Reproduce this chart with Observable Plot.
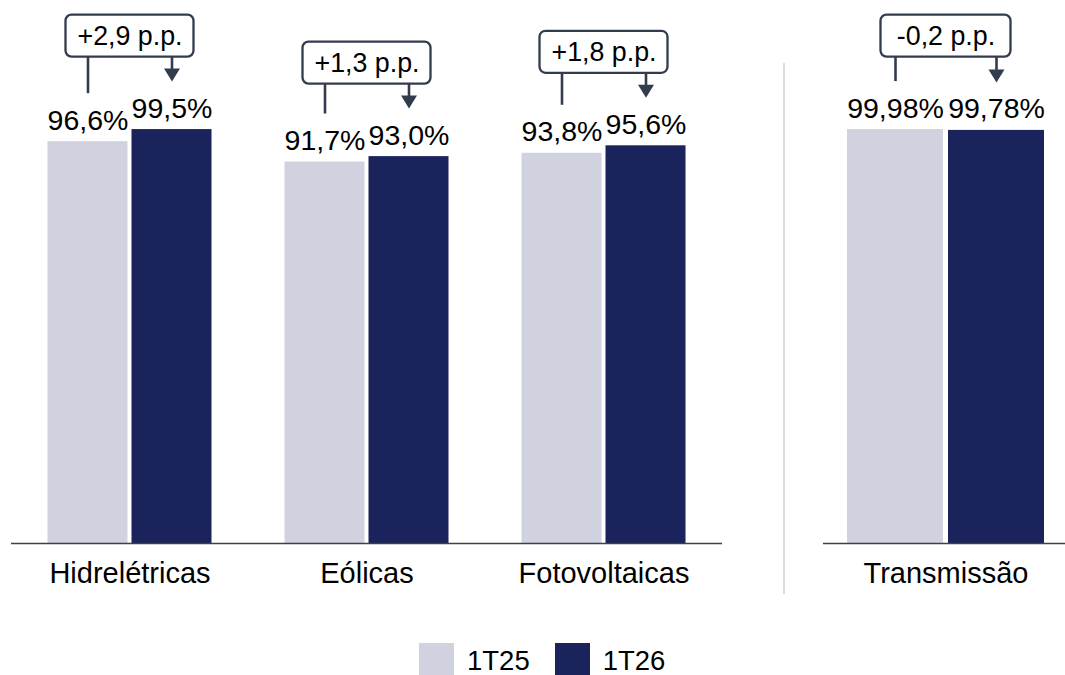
<!DOCTYPE html>
<html><head><meta charset="utf-8">
<script src="https://cdn.jsdelivr.net/npm/d3@7"></script>
<script src="https://cdn.jsdelivr.net/npm/@observablehq/plot@0.6"></script>
<style>
html,body{margin:0;padding:0;background:#fff;overflow:hidden;}
body{width:1065px;height:675px;position:relative;font-family:"Liberation Sans",Arial,sans-serif;}
#left{position:absolute;left:0;top:0;width:740px;}
#right{position:absolute;left:800px;top:0;width:268px;}
#sep{position:absolute;left:783px;top:63px;width:1.5px;height:531px;background:#dcdcdc;}
#legend{position:absolute;left:419px;top:643px;display:flex;align-items:center;font-size:27.5px;color:#000;line-height:35px;}
.sw{width:35px;height:35px;margin-right:13px;}
.lt{margin-right:25px;}
</style></head><body>
<div id="left"></div><div id="sep"></div><div id="right"></div>
<div id="legend"></div>
<script>
// ---- data ----
const periods = ["1T25", "1T26"];
const colors = ["#d0d3df", "#1a235c"];
const genCats = ["Hidrelétricas", "Eólicas", "Fotovoltaicas"];
const gen1T25 = [96.6, 91.7, 93.8];
const gen1T26 = [99.5, 93.0, 95.6];
const genDelta = ["+2,9 p.p.", "+1,3 p.p.", "+1,8 p.p."];
const trCats = ["Transmissão"];
const tr1T25 = [99.98];
const tr1T26 = [99.78];
const trDelta = ["-0,2 p.p."];

const ink = "#323c4e";
const font = "Liberation Sans, Arial, sans-serif";

// downward triangle with its tip at the origin
const arrowHead = {draw(ctx) { ctx.moveTo(-8, -13); ctx.lineTo(8, -13); ctx.lineTo(0, 0); ctx.closePath(); }};

function panel({cats, a, b, delta, decimals, width, marginLeft, marginRight, yTop, pi, po, boxInset}) {
  const base = 543;
  const k = (base - yTop) / 100;
  const up = px => px / k;
  const rows = cats.flatMap((c, i) => [
    {cat: c, period: periods[0], value: a[i]},
    {cat: c, period: periods[1], value: b[i]}
  ]);
  const ann = cats.map((c, i) => ({cat: c, a: a[i], b: b[i], max: Math.max(a[i], b[i]), label: delta[i]}));
  const fmt = v => v.toFixed(decimals).replace(".", ",") + "%";
  const boxGap = 72.5, boxH = 42, stemGap = 48, headH = 13;
  return Plot.plot({
    width, height: 600, marginLeft, marginRight, marginTop: 0, marginBottom: 57,
    style: {fontFamily: font, fontSize: "29px", color: "#000", background: "transparent", overflow: "visible", maxWidth: "none"},
    fx: {domain: cats, padding: 0, label: null, tickSize: 0, tickPadding: 18.5, axis: "bottom"},
    x: {domain: periods, axis: null, paddingInner: pi, paddingOuter: po},
    y: {domain: [0, 100], range: [base, yTop], axis: null},
    color: {domain: periods, range: colors},
    marks: [
      Plot.barY(rows, {fx: "cat", x: "period", y: "value", fill: "period"}),
      Plot.ruleY([0], {stroke: "#404040", strokeWidth: 1.6}),
      Plot.text(rows, {fx: "cat", x: "period", y: "value", text: d => fmt(d.value), dy: -12, lineAnchor: "bottom", fontSize: 28.5, fill: "#000"}),
      Plot.ruleX(ann, {fx: "cat", x: () => periods[0], y1: d => d.a + up(stemGap), y2: d => d.max + up(boxGap), stroke: ink, strokeWidth: 2.6}),
      Plot.ruleX(ann, {fx: "cat", x: () => periods[1], y1: d => d.b + up(stemGap + headH - 1), y2: d => d.max + up(boxGap), stroke: ink, strokeWidth: 2.6}),
      Plot.dot(ann, {fx: "cat", x: () => periods[1], y: d => d.b + up(stemGap), symbol: arrowHead, fill: ink, stroke: "none"}),
      Plot.rect(ann, {fx: "cat", y1: d => d.max + up(boxGap), y2: d => d.max + up(boxGap + boxH), insetLeft: boxInset, insetRight: boxInset, rx: 6, fill: "#fff", stroke: ink, strokeWidth: 2.3}),
      Plot.text(ann, {fx: "cat", y: d => d.max + up(boxGap + boxH / 2), text: "label", lineAnchor: "middle", fontSize: 26.8, fill: "#000"})
    ]
  });
}

document.getElementById("left").append(panel({
  cats: genCats, a: gen1T25, b: gen1T26, delta: genDelta, decimals: 1,
  width: 740, marginLeft: 10.5, marginRight: 18.5, yTop: 127,
  pi: 4 / 84, po: 0.4345, boxInset: 54.5
}));
document.getElementById("right").append(panel({
  cats: trCats, a: tr1T25, b: tr1T26, delta: trDelta, decimals: 2,
  width: 268, marginLeft: 23, marginRight: 0, yTop: 129,
  pi: 5 / 101, po: 0.2376, boxInset: 57.5
}));

const legend = document.getElementById("legend");
periods.forEach((p, i) => {
  const sw = document.createElement("div");
  sw.className = "sw"; sw.style.background = colors[i];
  const t = document.createElement("span");
  t.className = "lt"; t.textContent = p;
  legend.append(sw, t);
});
</script>
</body></html>
